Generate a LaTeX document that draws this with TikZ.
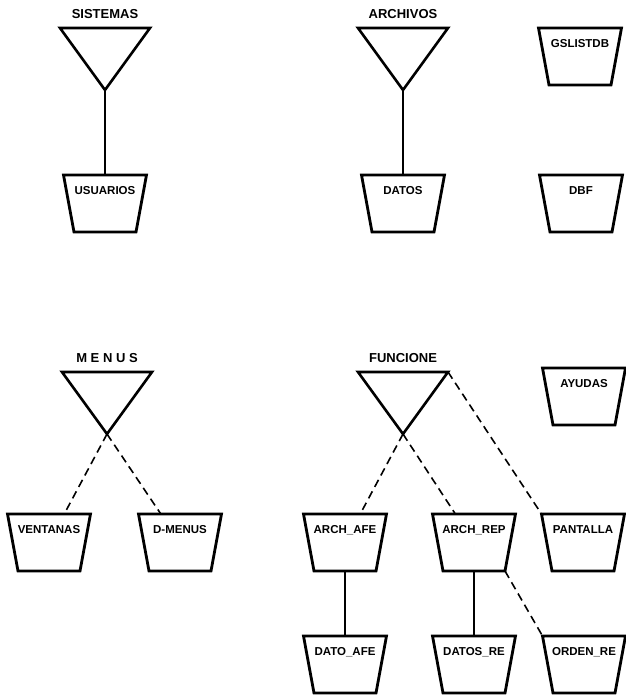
\documentclass[tikz,border=0pt]{standalone}
\usepackage{fontspec}
\setmainfont{Liberation Sans}
\usetikzlibrary{calc}

\tikzset{
  storearea/.style={rectangle, minimum width=83pt, minimum height=57pt,
    inner sep=0pt, outer sep=0pt},
  storeline/.style={draw, line width=2.8pt, line join=miter},
  storename/.style={font=\bfseries\fontsize{11.5}{13}\selectfont, inner sep=0pt},
  tri/.style={draw, line width=2.6pt, line join=miter},
  toplbl/.style={font=\bfseries\fontsize{13}{15}\selectfont, inner sep=0pt},
  solidlink/.style={line width=1.6pt},
  dashlink/.style={line width=1.6pt, dash pattern=on 8pt off 5pt},
}

% data store (wide top, narrow bottom): name, top-centre x, top y, caption
\newcommand\storebox[4]{%
  \node[storearea] (#1) at (#2,#3+28.5) {};
  \draw[storeline] (#1.north west) -- (#1.north east)
    -- ([xshift=-10.5pt]#1.south east) -- ([xshift=10.5pt]#1.south west) -- cycle;
  \node[storename] (#1-t) at (#2,#3+16) {#4};}

% entity triangle: name, centre x, top y, caption (apex is the coordinate #1)
\newcommand\trinode[4]{%
  \coordinate (#1-l) at (#2-45,#3);
  \coordinate (#1-r) at (#2+45,#3);
  \coordinate (#1) at (#2,#3+62);
  \draw[tri] (#1-l) -- (#1-r) -- (#1) -- cycle;
  \node[toplbl] (#1-t) at (#2,#3-14) {#4};}

\begin{document}
\begin{tikzpicture}[x=1pt,y=-1pt]
\useasboundingbox (0,0) rectangle (626,696);

% upper half
\trinode{sis}{105}{28}{SISTEMAS}
\trinode{arc}{403}{28}{ARCHIVOS}
\storebox{usuarios}{105}{175}{USUARIOS}
\storebox{datos}{403}{175}{DATOS}
\storebox{gslistdb}{580}{28}{GSLISTDB}
\storebox{dbf}{581}{175}{DBF}

\draw[solidlink] (sis) -- (usuarios);
\draw[solidlink] (arc) -- (datos);

% lower half
\trinode{men}{107}{372}{M E N U S}
\trinode{fun}{403}{372}{FUNCIONE}
\storebox{ayudas}{584}{368}{AYUDAS}
\storebox{ventanas}{49}{514}{VENTANAS}
\storebox{dmenus}{180}{514}{D-MENUS}
\storebox{archafe}{345}{514}{ARCH\_AFE}
\storebox{archrep}{474}{514}{ARCH\_REP}
\storebox{pantalla}{583}{514}{PANTALLA}
\storebox{datoafe}{345}{636}{DATO\_AFE}
\storebox{datosre}{474}{636}{DATOS\_RE}
\storebox{ordenre}{584}{636}{ORDEN\_RE}

\draw[dashlink] (men) -- (ventanas);
\draw[dashlink] (men) -- (dmenus);
\draw[dashlink] (fun) -- (archafe);
\draw[dashlink] (fun) -- (archrep);
\draw[dashlink] (fun-r) -- (pantalla.north west);
\draw[solidlink] (archafe) -- (datoafe);
\draw[solidlink] (archrep) -- (datosre);
\draw[dashlink] ([xshift=-10.5pt]archrep.south east) -- (ordenre.north west);
\end{tikzpicture}
\end{document}
